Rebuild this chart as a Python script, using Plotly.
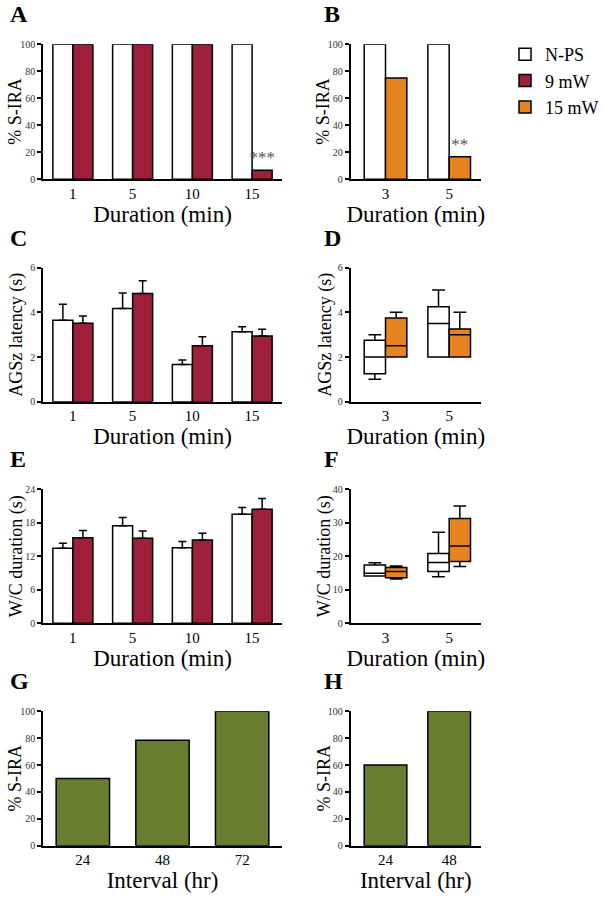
import plotly.graph_objects as go

# ---------------- data ----------------
A_cats = ["1", "5", "10", "15"]
A_nps = [100, 100, 100, 100]
A_9mw = [100, 100, 100, 6.7]
A_sig = ["", "", "", "***"]

B_cats = ["3", "5"]
B_nps = [100, 100]
B_15mw = [75, 16.7]
B_sig = ["", "**"]

C_nps = [3.65, 4.17, 1.67, 3.13]
C_nps_err = [0.71, 0.70, 0.20, 0.23]
C_9mw = [3.51, 4.84, 2.51, 2.94]
C_9mw_err = [0.33, 0.58, 0.40, 0.30]

D_nps_q1 = [1.25, 2.0]
D_nps_med = [2.0, 3.5]
D_nps_q3 = [2.75, 4.25]
D_nps_lo = [1.0, 2.0]
D_nps_hi = [3.0, 5.0]
D_15_q1 = [2.0, 2.0]
D_15_med = [2.5, 3.0]
D_15_q3 = [3.75, 3.25]
D_15_lo = [2.0, 2.0]
D_15_hi = [4.0, 4.0]

E_nps = [13.4, 17.45, 13.5, 19.5]
E_nps_err = [0.9, 1.45, 1.1, 1.2]
E_9mw = [15.3, 15.2, 14.9, 20.4]
E_9mw_err = [1.3, 1.3, 1.2, 1.9]

F_nps_q1 = [14.1, 15.4]
F_nps_med = [14.9, 18.1]
F_nps_q3 = [17.4, 20.8]
F_nps_lo = [14.1, 13.9]
F_nps_hi = [18.0, 27.1]
F_15_q1 = [13.6, 18.4]
F_15_med = [15.4, 23.0]
F_15_q3 = [16.6, 31.2]
F_15_lo = [13.2, 16.9]
F_15_hi = [17.1, 34.9]

G_cats = ["24", "48", "72"]
G_vals = [50, 78.5, 100]
H_cats = ["24", "48"]
H_vals = [60, 100]

# ---------------- style ----------------
WHITE = "white"
RED = "#9E1F3A"
ORANGE = "#E8841F"
GREEN = "#687D2F"
SERIF = "Liberation Serif, Times New Roman, serif"
LW = 1.5

W, H = 604, 904

def xd(l, r):
    return [l / W, r / W]

def yd(top, bottom):
    return [(H - bottom) / H, (H - top) / H]

fig = go.Figure()

def bar(x, y, color, name, axes, showlegend=False, err=None, text=None):
    kw = {}
    if err is not None:
        kw["error_y"] = dict(type="data", symmetric=False, array=err,
                             arrayminus=[0] * len(err), color="black",
                             thickness=LW, width=4)
    if text is not None:
        kw["text"] = text
        kw["textposition"] = "outside"
        kw["textfont"] = dict(family=SERIF, size=17, color="#555555")
        kw["cliponaxis"] = False
        kw["constraintext"] = "none"
    fig.add_trace(go.Bar(x=x, y=y, name=name, marker=dict(color=color, line=dict(color="black", width=LW)),
                         xaxis=axes[0], yaxis=axes[1], showlegend=showlegend, legendgroup=name, **kw))

def box(x, q1, med, q3, lo, hi, color, name, axes, group):
    fig.add_trace(go.Box(x=x, q1=q1, median=med, q3=q3, lowerfence=lo, upperfence=hi,
                         fillcolor=color, line=dict(color="black", width=LW), name=name,
                         whiskerwidth=0.6, boxpoints=False, xaxis=axes[0], yaxis=axes[1],
                         alignmentgroup=axes[0], offsetgroup=group,
                         showlegend=False, legendgroup=name))

# A
bar(A_cats, A_nps, WHITE, "N-PS", ("x", "y"), showlegend=True)
bar(A_cats, A_9mw, RED, "9 mW", ("x", "y"), showlegend=True, text=A_sig)
# B
bar(B_cats, B_nps, WHITE, "N-PS", ("x2", "y2"))
bar(B_cats, B_15mw, ORANGE, "15 mW", ("x2", "y2"), showlegend=True, text=B_sig)
# C
bar(A_cats, C_nps, WHITE, "N-PS", ("x3", "y3"), err=C_nps_err)
bar(A_cats, C_9mw, RED, "9 mW", ("x3", "y3"), err=C_9mw_err)
# D
box(B_cats, D_nps_q1, D_nps_med, D_nps_q3, D_nps_lo, D_nps_hi, WHITE, "N-PS", ("x4", "y4"), "a")
box(B_cats, D_15_q1, D_15_med, D_15_q3, D_15_lo, D_15_hi, ORANGE, "15 mW", ("x4", "y4"), "b")
# E
bar(A_cats, E_nps, WHITE, "N-PS", ("x5", "y5"), err=E_nps_err)
bar(A_cats, E_9mw, RED, "9 mW", ("x5", "y5"), err=E_9mw_err)
# F
box(B_cats, F_nps_q1, F_nps_med, F_nps_q3, F_nps_lo, F_nps_hi, WHITE, "N-PS", ("x6", "y6"), "a")
box(B_cats, F_15_q1, F_15_med, F_15_q3, F_15_lo, F_15_hi, ORANGE, "15 mW", ("x6", "y6"), "b")
# G, H
bar(G_cats, G_vals, GREEN, "G", ("x7", "y7"))
bar(H_cats, H_vals, GREEN, "H", ("x8", "y8"))

LEFT = xd(43, 282)
RIGHT = xd(350.5, 481)
ROWS = [yd(44.3, 179.3), yd(267.7, 401.7), yd(489, 623.3), yd(711.3, 845.7)]

panels = [
    # index, xdomain, ydomain, xrange, yrange, yticks, ytitle, ytitle x(px), xtitle, letter, letter x(px)
    (1, LEFT, ROWS[0], [-0.5, 3.5], [0, 100], [0, 20, 40, 60, 80, 100], "% S-IRA", 15, "Duration (min)", "A", 8),
    (2, RIGHT, ROWS[0], [-0.55, 1.5], [0, 100], [0, 20, 40, 60, 80, 100], "% S-IRA", 323, "Duration (min)", "B", 322),
    (3, LEFT, ROWS[1], [-0.5, 3.5], [0, 6], [0, 2, 4, 6], "AGSz latency (s)", 17, "Duration (min)", "C", 8),
    (4, RIGHT, ROWS[1], [-0.55, 1.5], [0, 6], [0, 2, 4, 6], "AGSz latency (s)", 326, "Duration (min)", "D", 322),
    (5, LEFT, ROWS[2], [-0.5, 3.5], [0, 24], [0, 6, 12, 18, 24], "W/C duration (s)", 16, "Duration (min)", "E", 8),
    (6, RIGHT, ROWS[2], [-0.55, 1.5], [0, 40], [0, 10, 20, 30, 40], "W/C duration (s)", 324, "Duration (min)", "F", 322),
    (7, LEFT, ROWS[3], [-0.5, 2.5], [0, 100], [0, 20, 40, 60, 80, 100], "% S-IRA", 14, "Interval (hr)", "G", 8),
    (8, RIGHT, ROWS[3], [-0.55, 1.5], [0, 100], [0, 20, 40, 60, 80, 100], "% S-IRA", 323, "Interval (hr)", "H", 322),
]

layout = {}
annotations = []
for i, xdom, ydom, xr, yr, tv, yt, ytx, xt, letter, lx in panels:
    sx = "" if i == 1 else str(i)
    layout["xaxis" + sx] = dict(
        domain=xdom, anchor="y" + sx, type="category", range=xr, automargin=False,
        showline=True, linecolor="black", linewidth=LW, ticks="", showgrid=False,
        zeroline=False, tickfont=dict(family=SERIF, size=15, color="black"),
        title=dict(text=xt, font=dict(family=SERIF, size=23, color="black"), standoff=2),
        fixedrange=True,
    )
    layout["yaxis" + sx] = dict(
        domain=ydom, anchor="x" + sx, range=yr, tickvals=tv, automargin=False,
        showline=True, linecolor="black", linewidth=LW, ticks="outside", ticklen=4,
        tickwidth=LW, tickcolor="black", showgrid=False, zeroline=False,
        tickfont=dict(family=SERIF, size=10, color="#333333"),
        fixedrange=True,
    )
    annotations.append(dict(
        text=yt, textangle=-90, xref="paper", yref="paper",
        x=ytx / W, y=(ydom[0] + ydom[1]) / 2, xanchor="center", yanchor="middle",
        showarrow=False, font=dict(family=SERIF, size=18, color="black"),
    ))
    annotations.append(dict(
        text="<b>%s</b>" % letter, xref="paper", yref="paper",
        x=lx / W, y=ydom[1],
        xanchor="left", yanchor="bottom", showarrow=False, yshift=15,
        font=dict(family=SERIF, size=24, color="black"),
    ))

fig.update_layout(
    **layout,
    annotations=annotations,
    width=W, height=H,
    margin=dict(l=0, r=0, t=0, b=0, pad=0, autoexpand=False),
    paper_bgcolor="white", plot_bgcolor="white",
    barmode="group", bargap=0.33, bargroupgap=0,
    boxmode="group", boxgap=0.33, boxgroupgap=0,
    showlegend=True,
    legend=dict(x=505 / W, y=1 - 36 / H, xanchor="left", yanchor="top",
                font=dict(family=SERIF, size=18, color="black"),
                tracegroupgap=0, itemwidth=30, bgcolor="rgba(0,0,0,0)"),
)

fig.write_html(
    "out.html",
    config={"displayModeBar": False},
    post_script=(
        "document.documentElement.style.margin='0';"
        "document.body.style.margin='0';"
        "document.body.style.overflow='hidden';"
    ),
)
